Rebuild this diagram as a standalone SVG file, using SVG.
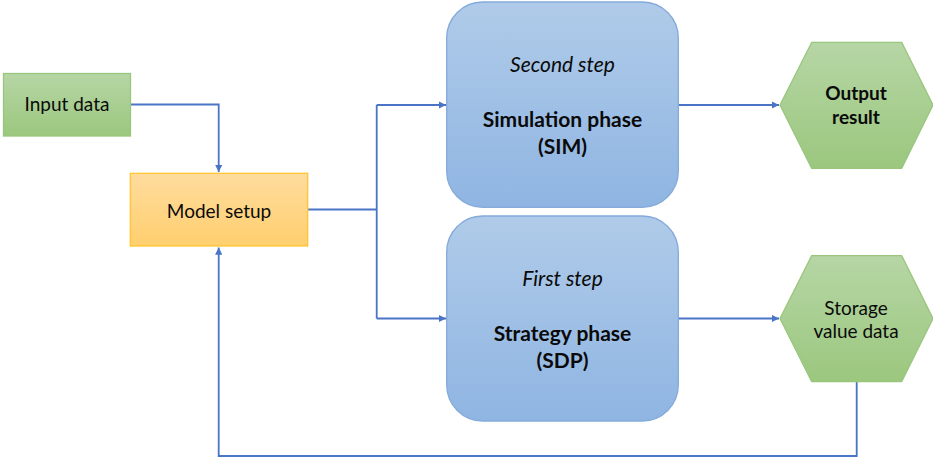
<svg xmlns="http://www.w3.org/2000/svg" width="933" height="459" viewBox="0 0 933 459">
<defs>
<linearGradient id="gGreen" x1="0" y1="0" x2="0" y2="1"><stop offset="0" stop-color="#b6d6a5"/><stop offset="1" stop-color="#9bc77e"/></linearGradient>
<linearGradient id="gOrange" x1="0" y1="0" x2="0" y2="1"><stop offset="0" stop-color="#ffdc9e"/><stop offset="1" stop-color="#ffcf6e"/></linearGradient>
<linearGradient id="gBlue" x1="0" y1="0" x2="0" y2="1"><stop offset="0" stop-color="#b0cbe9"/><stop offset="1" stop-color="#8fb5e2"/></linearGradient>
<marker id="arr" viewBox="0 0 10 10" refX="10" refY="5" markerWidth="4" markerHeight="4" orient="auto" markerUnits="strokeWidth"><path d="M0,0 L10,5 L0,10 z" fill="#4a74c6"/></marker>
</defs>
<style>
.green{fill:url(#gGreen);stroke:#98c67c;stroke-width:1.3}
.orange{fill:url(#gOrange);stroke:#ffc633;stroke-width:1.3}
.blue{fill:url(#gBlue);stroke:#84aadb;stroke-width:1.3}
.t{font-family:Lato,"Open Sans",sans-serif;font-size:19px;fill:#0a0a0a;text-anchor:middle}
.b{font-weight:bold;font-size:21px}
.i{font-style:italic;font-size:21px}
.ob{font-weight:bold;font-size:19px}
.c{fill:none;stroke:#4a74c6;stroke-width:1.8}
</style>
<g id="connectors">
<path class="c" d="M130,104.5 H218.7 V172" marker-end="url(#arr)"/>
<path class="c" d="M307.7,209.5 H376.7"/>
<path class="c" d="M376.7,105 V318.5"/>
<path class="c" d="M376.7,105 H446" marker-end="url(#arr)"/>
<path class="c" d="M376.7,318.5 H446" marker-end="url(#arr)"/>
<path class="c" d="M678.3,105 H779" marker-end="url(#arr)"/>
<path class="c" d="M678.3,318.5 H779" marker-end="url(#arr)"/>
<path class="c" d="M856.7,382 V456 H218.7 V247.5" marker-end="url(#arr)"/>
</g>
<g id="input-data">
<rect class="green" x="3.5" y="73.5" width="127" height="62.5"/>
<text class="t" x="67" y="111">Input data</text>
</g>
<g id="model-setup">
<rect class="orange" x="130.3" y="173.3" width="177.4" height="72.7"/>
<text class="t" x="219" y="217.5">Model setup</text>
</g>
<g id="simulation-phase">
<rect class="blue" x="446.7" y="2" width="231.6" height="205.3" rx="36" ry="36"/>
<text class="t i" x="562.5" y="71.5">Second step</text>
<text class="t b" x="562.5" y="126.5">Simulation phase</text>
<text class="t b" x="562.5" y="153.5">(SIM)</text>
</g>
<g id="strategy-phase">
<rect class="blue" x="446.7" y="216" width="231.6" height="205" rx="36" ry="36"/>
<text class="t i" x="562.5" y="285.5">First step</text>
<text class="t b" x="562.5" y="340.5">Strategy phase</text>
<text class="t b" x="562.5" y="367.5">(SDP)</text>
</g>
<g id="output-result">
<polygon class="green" points="780,105 811.7,42.3 901.7,42.3 933,105 901.7,168.3 811.7,168.3"/>
<text class="t ob" x="856" y="100">Output</text>
<text class="t ob" x="856" y="124">result</text>
</g>
<g id="storage-value-data">
<polygon class="green" points="780,318.5 811.7,255.7 901.7,255.7 933,318.5 901.7,381.7 811.7,381.7"/>
<text class="t" x="856" y="315">Storage</text>
<text class="t" x="856" y="338">value data</text>
</g>
</svg>
